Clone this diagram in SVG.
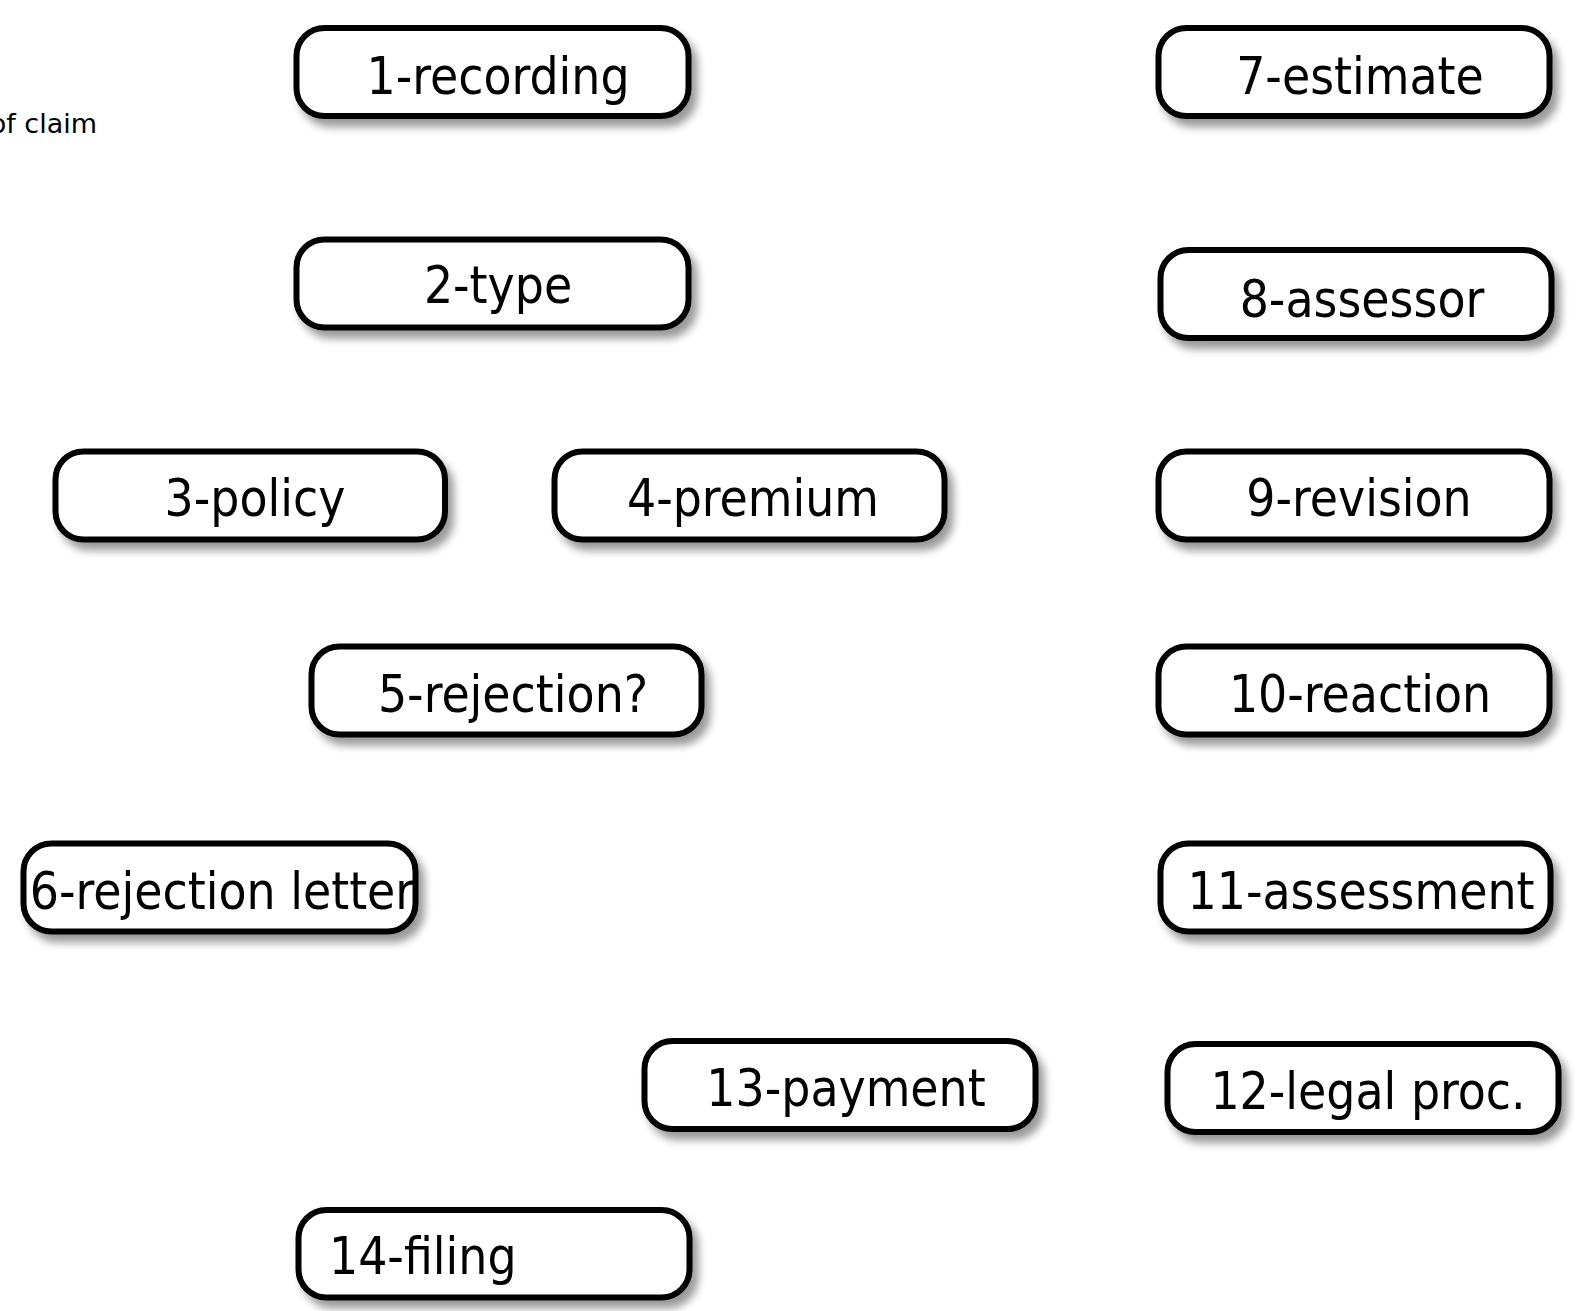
<svg xmlns="http://www.w3.org/2000/svg" width="1586" height="1311" viewBox="0 0 1586 1311">
<style>
.box{fill:#fff;stroke:#000;stroke-width:6;filter:url(#sh)}
.lbl{font-family:"DejaVu Sans Condensed","DejaVu Sans",sans-serif;font-size:51px;fill:#000;text-anchor:middle}
.note{font-family:"DejaVu Sans",sans-serif;font-size:27px;fill:#000;text-anchor:end}
</style>
<defs>
<filter id="sh" x="-10%" y="-20%" width="125%" height="150%">
<feGaussianBlur in="SourceAlpha" stdDeviation="4.5"/>
<feOffset dx="6" dy="8" result="b"/>
<feComponentTransfer><feFuncA type="linear" slope="0.4"/></feComponentTransfer>
<feMerge><feMergeNode/><feMergeNode in="SourceGraphic"/></feMerge>
</filter>
</defs>
<rect width="1586" height="1311" fill="#fff"/>
<text class="note" x="97" y="133">of claim</text>
<g id="connectors"></g>
<g id="n1"><rect class="box" x="296.5" y="28" width="392" height="88" rx="28"/><text class="lbl" x="498" y="94">1-recording</text></g>
<g id="n7"><rect class="box" x="1158.5" y="28" width="391" height="88" rx="28"/><text class="lbl" x="1360" y="94">7-estimate</text></g>
<g id="n2"><rect class="box" x="296.5" y="239.5" width="392" height="88" rx="28"/><text class="lbl" x="498" y="303">2-type</text></g>
<g id="n8"><rect class="box" x="1160.5" y="250" width="391" height="88" rx="28"/><text class="lbl" x="1362" y="317">8-assessor</text></g>
<g id="n3"><rect class="box" x="55.5" y="451.5" width="389.5" height="88" rx="28"/><text class="lbl" x="255" y="516">3-policy</text></g>
<g id="n4"><rect class="box" x="554.5" y="451.5" width="390" height="88" rx="28"/><text class="lbl" x="753" y="516">4-premium</text></g>
<g id="n9"><rect class="box" x="1158.5" y="451.5" width="391" height="88" rx="28"/><text class="lbl" x="1359" y="516">9-revision</text></g>
<g id="n5"><rect class="box" x="311.5" y="646.5" width="390" height="88" rx="28"/><text class="lbl" x="513" y="712">5-rejection?</text></g>
<g id="n10"><rect class="box" x="1158.5" y="646.5" width="391" height="88" rx="28"/><text class="lbl" x="1360" y="712">10-reaction</text></g>
<g id="n6"><rect class="box" x="23.5" y="843.5" width="392" height="88" rx="28"/><text class="lbl" x="222" y="909">6-rejection letter</text></g>
<g id="n11"><rect class="box" x="1160.5" y="843.5" width="390" height="88" rx="28"/><text class="lbl" x="1361" y="909">11-assessment</text></g>
<g id="n13"><rect class="box" x="644.5" y="1041" width="391" height="88" rx="28"/><text class="lbl" x="846" y="1106">13-payment</text></g>
<g id="n12"><rect class="box" x="1167.5" y="1044" width="391" height="88" rx="28"/><text class="lbl" x="1368" y="1109">12-legal proc.</text></g>
<g id="n14"><rect class="box" x="298.5" y="1210" width="391" height="87.5" rx="28"/><text class="lbl" x="329" y="1274" style="text-anchor:start">14-filing</text></g>
</svg>
